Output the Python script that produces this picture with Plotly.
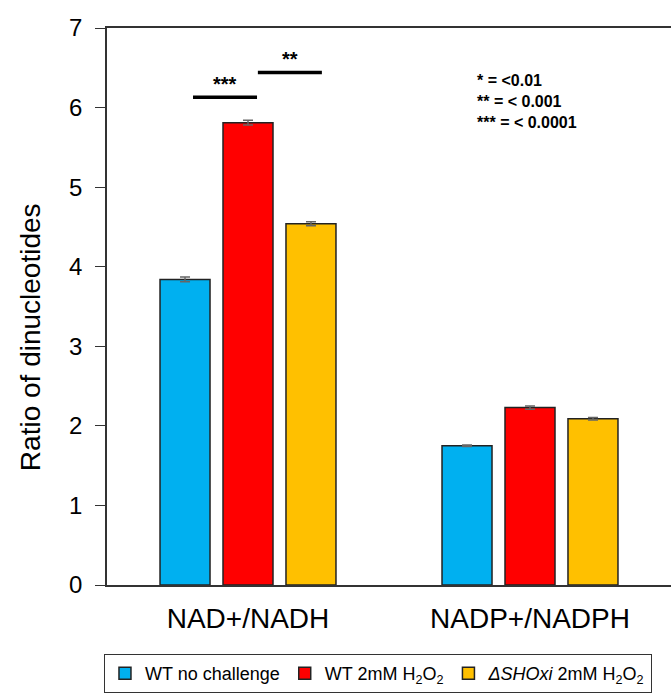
import plotly.graph_objects as go

categories = ["NAD+/NADH", "NADP+/NADPH"]
series_names = ["WT no challenge", "WT 2mM H<sub>2</sub>O<sub>2</sub>",
                "<i>ΔSHOxi</i> 2mM H<sub>2</sub>O<sub>2</sub>"]
wt_no_challenge = [3.84, 1.75]
wt_h2o2 = [5.81, 2.23]
shoxi_h2o2 = [4.54, 2.09]
err_wt_no = [0.03, 0.01]
err_wt_h2o2 = [0.03, 0.02]
err_shoxi = [0.025, 0.015]
colors = ["#00B0F0", "#FF0000", "#FFC000"]
y_ticks = [0, 1, 2, 3, 4, 5, 6, 7]
y_title = "Ratio of dinucleotides"

FONT = "Liberation Sans, Arial"

fig = go.Figure()
for name, vals, errs, col in zip(series_names,
                                 [wt_no_challenge, wt_h2o2, shoxi_h2o2],
                                 [err_wt_no, err_wt_h2o2, err_shoxi], colors):
    fig.add_trace(go.Bar(
        x=categories, y=vals, name=name,
        marker=dict(color=col, line=dict(color="#222222", width=1.5)),
        error_y=dict(type="data", array=errs, color="#666666", thickness=1.5, width=5),
    ))

# significance bars
fig.add_shape(type="line", xref="x", yref="y", x0=-0.195, x1=0.032, y0=6.13, y1=6.13,
              line=dict(color="black", width=3.5))
fig.add_shape(type="line", xref="x", yref="y", x0=0.035, x1=0.262, y0=6.44, y1=6.44,
              line=dict(color="black", width=3.5))
fig.add_annotation(x=-0.08, y=6.30, xref="x", yref="y", text="<b>***</b>", showarrow=False,
                   font=dict(size=20, color="black", family=FONT))
fig.add_annotation(x=0.15, y=6.61, xref="x", yref="y", text="<b>**</b>", showarrow=False,
                   font=dict(size=20, color="black", family=FONT))
fig.add_annotation(x=0.652, y=0.925, xref="paper", yref="paper", xanchor="left", yanchor="top",
                   align="left", showarrow=False,
                   text="<b>* = <0.01<br>** = < 0.001<br>*** = < 0.0001</b>",
                   font=dict(size=16, color="black", family=FONT))
# y-axis title
fig.add_annotation(x=-0.1365, y=0.445, xref="paper", yref="paper", xanchor="center",
                   yanchor="middle", textangle=-90, showarrow=False, text=y_title,
                   font=dict(size=28, color="black", family=FONT))

fig.update_layout(
    width=671, height=700,
    margin=dict(l=107, r=0, t=28, b=115),
    paper_bgcolor="white", plot_bgcolor="white",
    barmode="group", bargap=0.33, bargroupgap=0.206,
    font=dict(family=FONT, color="black"),
    showlegend=True,
    legend=dict(orientation="h", xref="container", yref="container",
                x=0.563, xanchor="center", y=0.066, yanchor="top",
                bordercolor="#333333", borderwidth=1.2, font=dict(size=18),
                itemwidth=30, traceorder="normal"),
    xaxis=dict(showline=True, linecolor="#333333", linewidth=1.5, mirror=True,
               ticks="", tickfont=dict(size=28), showgrid=False, automargin=False,
               ticklabelstandoff=8),
    yaxis=dict(range=[0, 7], tickvals=y_ticks, showline=True, linecolor="#333333",
               linewidth=1.5, ticks="outside", ticklen=10, tickcolor="#333333",
               tickfont=dict(size=24), showgrid=False, zeroline=False, automargin=False,
               ticklabelstandoff=8),
)
fig.write_html("out.html", config={"displayModeBar": False},
               post_script="document.body.style.margin='0';document.body.style.overflow='hidden';")
